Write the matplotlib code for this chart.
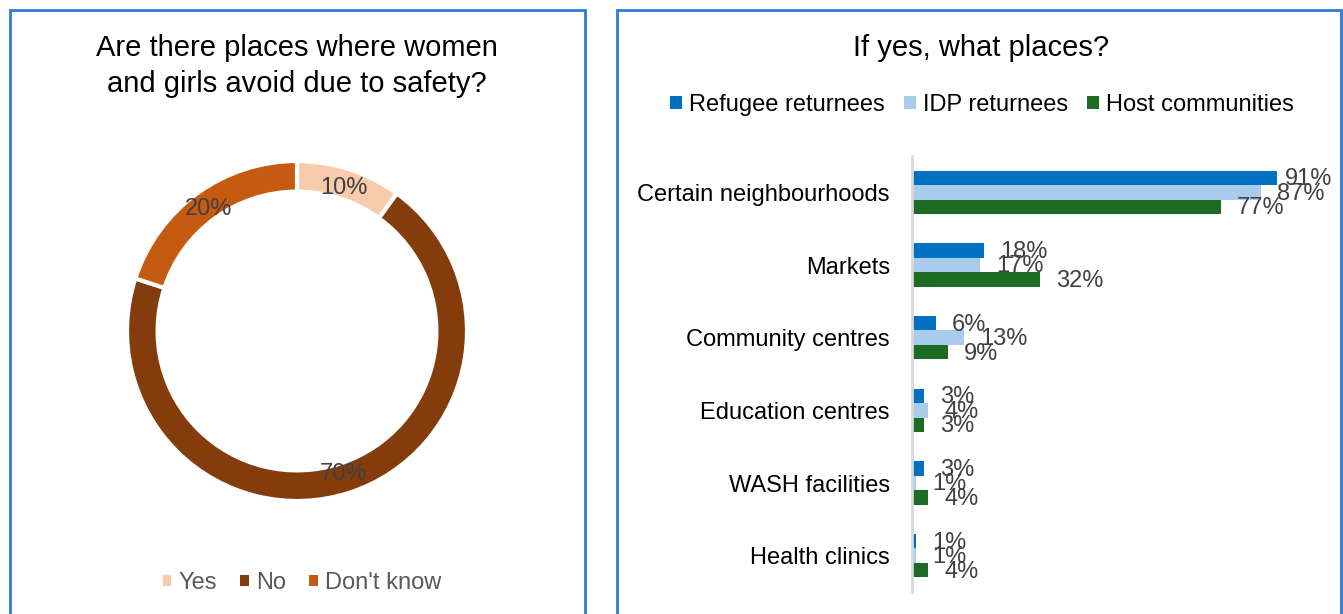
import numpy as np
import matplotlib
matplotlib.use('Agg')
import matplotlib.pyplot as plt
from matplotlib.patches import Rectangle, Patch

plt.rcParams['font.family'] = ['Liberation Sans', 'DejaVu Sans']

# donut data
pie_labels = ['Yes', 'No', "Don't know"]
pie_values = [10, 70, 20]
pie_colors = ['#F8CBAD', '#843C0C', '#C55A11']

# bar data
places = ['Certain neighbourhoods', 'Markets', 'Community centres',
          'Education centres', 'WASH facilities', 'Health clinics']
series_names = ['Refugee returnees', 'IDP returnees', 'Host communities']
refugee = [91, 18, 6, 3, 3, 1]
idp = [87, 17, 13, 4, 1, 1]
host = [77, 32, 9, 3, 4, 4]
bar_colors = ['#0070C0', '#A9CCEC', '#1D6B24']

W, H = 1343, 614
fig = plt.figure(figsize=(W / 100, H / 100), dpi=100)


def px(x, y, w, h):
    # pixel box (from top-left) -> figure coords
    return [x / W, 1 - (y + h) / H, w / W, h / H]


# panel borders
border = '#2A7FD4'
for x0, x1 in [(10, 585), (617, 1341)]:
    fig.patches.append(Rectangle((x0 / W, -0.1), (x1 - x0) / W, 1.1 - 10 / H,
                                 transform=fig.transFigure, fill=False,
                                 edgecolor=border, linewidth=2))

fs = 17

# ---- left: donut
fig.text(297 / W, 1 - 66 / H, 'Are there places where women\nand girls avoid due to safety?',
         ha='center', va='center', fontsize=21, color='black', linespacing=1.38)

ax1 = fig.add_axes(px(127, 161, 340, 340))
wedges, texts, autotexts = ax1.pie(pie_values, colors=pie_colors, startangle=90,
                                   counterclock=False, radius=1,
                                   autopct='%.0f%%', pctdistance=0.885,
                                   wedgeprops=dict(width=0.18, edgecolor='white', linewidth=3),
                                   textprops=dict(fontsize=fs, color='#404040'))
ax1.set_xlim(-1, 1)
ax1.set_ylim(-1, 1)
ax1.set_aspect('equal')

handles = [Patch(facecolor=c, edgecolor='none') for c in pie_colors]
fig.legend(handles, pie_labels, loc='center', bbox_to_anchor=(302 / W, 1 - 583 / H),
           ncol=3, frameon=False, fontsize=fs, labelcolor='#595959',
           handlelength=0.35, handleheight=0.3, handletextpad=0.3, columnspacing=1.0)

# ---- right: bars
fig.text(981 / W, 1 - 48 / H, 'If yes, what places?', ha='center', va='center',
         fontsize=21, color='black')

ax2 = fig.add_axes(px(912, 156, 401, 436))
y = np.arange(len(places))
h = 0.2
all_series = [refugee, idp, host]
for k, (vals, col) in enumerate(zip(all_series, bar_colors)):
    pos = y + (k - 1) * h
    ax2.barh(pos, vals, height=h, color=col, label=series_names[k])
    for p, v in zip(pos, vals):
        off = 8 if v > 90 else 16
        ax2.annotate(f'{v}%', (v, p), xytext=(off * 0.72, -1), textcoords='offset points',
                     ha='left', va='center', fontsize=fs, color='#404040',
                     annotation_clip=False)

ax2.set_xlim(0, 100)
ax2.set_ylim(len(places) - 0.5, -0.5)
ax2.set_yticks(y)
ax2.set_yticklabels(places, fontsize=fs, color='black')
ax2.tick_params(axis='y', length=0, pad=16)
ax2.set_xticks([])
for s in ['top', 'right', 'bottom']:
    ax2.spines[s].set_visible(False)
ax2.spines['left'].set_color('#D9D9D9')
ax2.spines['left'].set_linewidth(2)
ax2.patch.set_alpha(0)

bh = [Patch(facecolor=c, edgecolor='none') for c in bar_colors]
fig.legend(bh, series_names, loc='center', bbox_to_anchor=(982 / W, 1 - 105 / H),
           ncol=3, frameon=False, fontsize=fs, labelcolor='black',
           handlelength=0.5, handleheight=0.45, handletextpad=0.3, columnspacing=0.8)

fig.savefig('out.png', dpi=100)
